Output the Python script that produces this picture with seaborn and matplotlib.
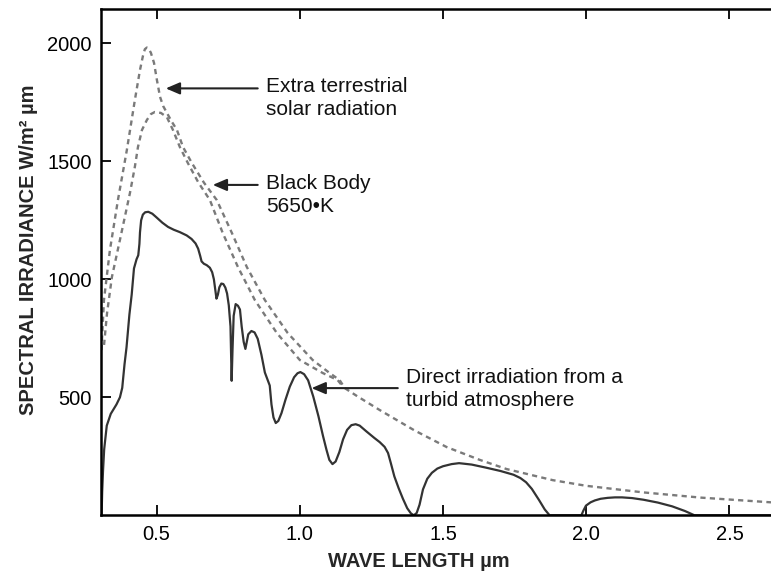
import pandas as pd
import matplotlib
matplotlib.use("Agg")
import matplotlib.pyplot as plt
import seaborn as sns

# values (wavelength in um, irradiance in W/m2 um)
direct_wl = [0.308, 0.310, 0.313, 0.317, 0.326, 0.340, 0.360, 0.372, 0.380, 0.388, 0.395,
             0.405, 0.413, 0.421, 0.430, 0.436, 0.440, 0.442, 0.446, 0.452, 0.460, 0.471,
             0.485, 0.500, 0.520, 0.540, 0.560, 0.581, 0.605, 0.622, 0.636, 0.645, 0.652,
             0.657, 0.665, 0.675, 0.686, 0.694, 0.700, 0.709, 0.714, 0.719, 0.726, 0.733,
             0.740, 0.746, 0.752, 0.758, 0.762, 0.765, 0.769, 0.776, 0.784, 0.791, 0.797,
             0.804, 0.810, 0.815, 0.820, 0.831, 0.842, 0.853, 0.866, 0.878, 0.888, 0.895,
             0.901, 0.908, 0.916, 0.925, 0.936, 0.950, 0.965, 0.980, 0.992, 1.002, 1.015,
             1.029, 1.047, 1.065, 1.081, 1.093, 1.103, 1.114, 1.125, 1.138, 1.151, 1.165,
             1.180, 1.195, 1.209, 1.232, 1.260, 1.279, 1.296, 1.308, 1.318, 1.330, 1.345,
             1.360, 1.375, 1.388, 1.398, 1.408, 1.418, 1.430, 1.445, 1.461, 1.480, 1.500,
             1.530, 1.556, 1.600, 1.650, 1.700, 1.746, 1.770, 1.790, 1.810, 1.835, 1.855,
             1.872, 1.983, 1.990, 1.999, 2.015, 2.030, 2.050, 2.075, 2.100, 2.125, 2.160,
             2.200, 2.250, 2.300, 2.345, 2.378, 2.645]
direct_irr = [0, 100, 190, 280, 380, 430, 470, 500, 540, 640, 712,
              850, 935, 1046, 1085, 1102, 1150, 1199, 1250, 1274, 1284, 1286,
              1278, 1262, 1240, 1222, 1210, 1200, 1186, 1171, 1152, 1130, 1100,
              1076, 1066, 1060, 1049, 1030, 1000, 918, 935, 966, 982, 980,
              965, 940, 890, 800, 570, 700, 845, 895, 888, 872, 800,
              735, 705, 735, 767, 781, 775, 748, 680, 605, 572, 550,
              470, 415, 391, 400, 433, 490, 545, 585, 602, 607, 598,
              572, 503, 420, 336, 278, 235, 217, 228, 268, 322, 362,
              382, 386, 380, 356, 328, 310, 290, 264, 220, 165, 115,
              70, 30, 8, 0, 10, 45, 110, 155, 180, 198, 208,
              217, 221, 215, 202, 188, 172, 158, 140, 112, 65, 25,
              0, 0, 20, 41, 55, 63, 70, 74, 76, 76, 73,
              66, 54, 38, 18, 0, 0]

extra_wl = [0.3075, 0.3162, 0.337, 0.365, 0.396, 0.424, 0.4418, 0.452, 0.459, 0.466, 0.473,
            0.480, 0.491, 0.501, 0.512, 0.523, 0.536, 0.553, 0.571, 0.592, 0.623, 0.665,
            0.710, 0.763, 0.815, 0.878, 0.958, 1.045, 1.104, 1.139, 1.157, 1.200, 1.279,
            1.400, 1.513, 1.628, 1.722, 1.883, 2.000, 2.200, 2.400, 2.645]
extra_irr = [700, 912, 1124, 1336, 1547, 1759, 1886, 1945, 1975, 1982, 1976,
             1960, 1917, 1845, 1773, 1734, 1705, 1668, 1633, 1561, 1493, 1410,
             1336, 1196, 1052, 912, 772, 658, 603, 573, 539, 505, 446,
             360, 289, 235, 196, 149, 125, 97, 75, 55]

bb_wl = [0.3165, 0.327, 0.344, 0.372, 0.407, 0.424, 0.435, 0.449, 0.466, 0.480,
         0.494, 0.515, 0.536, 0.557, 0.581, 0.609, 0.645, 0.686, 0.731, 0.784, 0.843,
         0.920, 1.000, 1.080, 1.132, 1.146]
bb_irr = [722, 857, 1010, 1167, 1366, 1476, 1561, 1633, 1675, 1700,
          1709, 1705, 1687, 1633, 1561, 1493, 1412, 1336, 1196, 1052, 912,
          772, 658, 603, 573, 552]

x_ticks = [0.5, 1.0, 1.5, 2.0, 2.5]
x_labels = ["0.5", "1.0", "1.5", "2.0", "2.5"]
y_ticks = [500, 1000, 1500, 2000]

sns.set_theme(style="ticks")
plt.rcParams["font.family"] = ["Liberation Sans", "DejaVu Sans"]

fig = plt.figure(figsize=(7.71, 5.72), dpi=100)
ax = fig.add_axes([0.1316, 0.0991, 0.8684, 0.885])

dash_col = "#7a7a7a"
sns.lineplot(x=extra_wl, y=extra_irr, ax=ax, sort=False, estimator=None,
             color=dash_col, lw=1.7, linestyle=(0, (2.2, 1.8)))
sns.lineplot(x=bb_wl, y=bb_irr, ax=ax, sort=False, estimator=None,
             color=dash_col, lw=1.7, linestyle=(0, (2.2, 1.8)))
sns.lineplot(x=direct_wl, y=direct_irr, ax=ax, sort=False, estimator=None,
             color="#333333", lw=1.6)

ax.set_xlim(0.3075, 2.645)
ax.set_ylim(0, 2145)
ax.set_xticks(x_ticks)
ax.set_xticklabels(x_labels)
ax.set_yticks(y_ticks)
ax.tick_params(direction="in", length=7, width=1.3, labelsize=14.5, pad=7,
               top=True, labeltop=False, colors="black")
for side in ["left", "bottom", "top"]:
    ax.spines[side].set_linewidth(1.8)
    ax.spines[side].set_color("black")
ax.spines["right"].set_visible(False)

lab_font = {"family": ["Liberation Sans Narrow", "Liberation Sans"],
            "weight": "bold", "size": 14.5}
ax.set_xlabel("WAVE LENGTH µm", fontdict=lab_font)
ax.set_ylabel("SPECTRAL IRRADIANCE W/m² µm", fontdict=lab_font)
ax.xaxis.set_label_coords(0.474, -0.073)
ax.yaxis.set_label_coords(-0.095, 0.524)

arrow = dict(arrowstyle="-|>,head_length=0.7,head_width=0.3", color="#222222",
             lw=1.5, shrinkA=0, shrinkB=0)
ax.annotate("", xy=(0.532, 1809), xytext=(0.853, 1809), arrowprops=arrow)
ax.annotate("", xy=(0.696, 1400), xytext=(0.853, 1400), arrowprops=arrow)
ax.annotate("", xy=(1.041, 539), xytext=(1.342, 539), arrowprops=arrow)

txt = dict(fontsize=15, color="#111111", va="top", ha="left", linespacing=1.25)
ax.text(0.882, 1857, "Extra terrestrial\nsolar radiation", **txt)
ax.text(0.882, 1446, "Black Body\n5650•K", **txt)
ax.text(1.369, 624, "Direct irradiation from a\nturbid atmosphere", **txt)

fig.savefig("out.png", dpi=100)
